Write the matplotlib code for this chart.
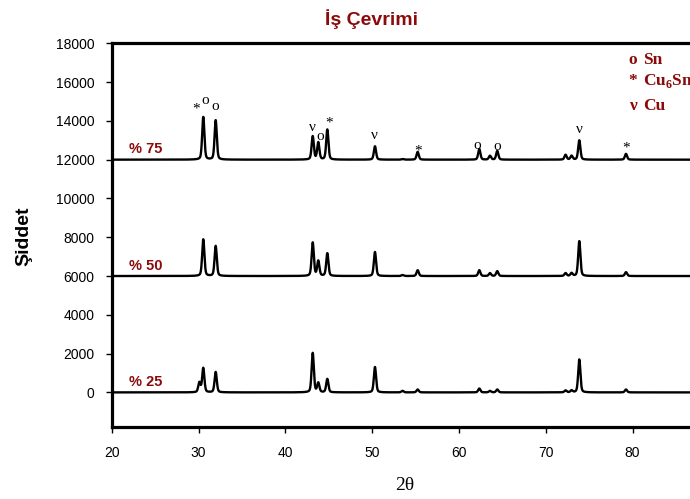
import numpy as np
import matplotlib
matplotlib.use("Agg")
import matplotlib.pyplot as plt

# ---------------- data ----------------
# peak positions (2theta) and heights above baseline for each sample
peak_pos = [30.1, 30.55, 31.98, 43.16, 43.8, 44.84, 50.33, 53.5, 55.25,
            62.35, 63.58, 64.42, 72.29, 72.98, 73.87, 79.25]
heights_25 = [500, 1250, 1050, 2030, 480, 690, 1310, 80, 150,
              200, 80, 150, 100, 100, 1700, 150]
heights_50 = [0, 1890, 1550, 1720, 770, 1170, 1240, 50, 300,
              300, 150, 250, 150, 150, 1800, 200]
heights_75 = [0, 2200, 2030, 1200, 880, 1550, 690, 30, 400,
              550, 200, 450, 250, 200, 1000, 300]
baselines = [0, 6000, 12000]
series_labels = ["% 25", "% 50", "% 75"]

# phase markers on the 75 % pattern: (symbol, 2theta, intensity)
marker_syms = ["*", "o", "o", "ν", "o", "*", "ν", "*", "o", "o", "ν", "*"]
marker_x = [29.68, 30.78, 31.98, 43.08, 44.0, 45.0, 50.22, 55.25, 62.12, 64.42, 73.87, 79.25]
marker_y = [14610, 15039, 14749, 13664, 13178, 13871, 13266, 12424, 12750, 12682, 13576, 12579]

legend_syms = ["o", "*", "ν"]
legend_names = ["Sn", "Cu$_\\mathregular{6}$Sn$_\\mathregular{5}$", "Cu"]

xticks = [20, 30, 40, 50, 60, 70, 80]
yticks = [0, 2000, 4000, 6000, 8000, 10000, 12000, 14000, 16000, 18000]

DARK_RED = "#8B0A0A"

# ---------------- profile ----------------
two_theta = np.arange(20.0, 90.0, 0.01)
fwhm = 0.30


def profile(heights, base):
    y = np.full_like(two_theta, float(base))
    g = fwhm / 2.0
    for p, h in zip(peak_pos, heights):
        lor = 1.0 / (1.0 + ((two_theta - p) / g) ** 2)
        gau = np.exp(-np.log(2) * ((two_theta - p) / g) ** 2)
        y += h * (0.35 * lor + 0.65 * gau)
    return y


# ---------------- figure ----------------
W, H = 690, 499
fig = plt.figure(figsize=(W / 100, H / 100), dpi=100)
left_px, right_px = 111.7, 111.7 + 70 * 8.68
top_px, bottom_px = 43.3, 427.3
ax = fig.add_axes([left_px / W, 1 - bottom_px / H,
                   (right_px - left_px) / W, (bottom_px - top_px) / H])

for heights, base in zip([heights_25, heights_50, heights_75], baselines):
    ax.plot(two_theta, profile(heights, base), color="black", lw=1.7,
            solid_joinstyle="round")

for lab, base in zip(series_labels, baselines):
    ax.text(22.0, base + 170, lab, color=DARK_RED, fontsize=10.5,
            fontweight="bold", family="Liberation Sans", ha="left", va="bottom")

for s, x, y in zip(marker_syms, marker_x, marker_y):
    ax.text(x, y, s, ha="center", va="center", fontsize=11,
            family="Liberation Serif", color="black")

ax.set_xlim(20, 90)
ax.set_ylim(-1800, 18000)
ax.set_xticks(xticks)
ax.set_yticks(yticks)
ax.tick_params(direction="out", length=4.5, width=1, labelsize=10)
ax.tick_params(axis="x", pad=9)
ax.tick_params(axis="y", pad=8)
for lbl in ax.get_xticklabels() + ax.get_yticklabels():
    lbl.set_family("Liberation Sans")
for sp in ax.spines.values():
    sp.set_linewidth(2.3)

# legend (manual text entries, partly cut at the right edge as in the reference)
leg_y_px = [60, 81, 106]
for s, name, ypx in zip(legend_syms, legend_names, leg_y_px):
    fig.text(632.5 / W, 1 - ypx / H, s, color=DARK_RED, fontsize=12.5, fontweight="bold",
             family="Liberation Serif", ha="center", va="center")
    fig.text(643 / W, 1 - ypx / H, name, color=DARK_RED, fontsize=12.5, fontweight="bold",
             family="Liberation Serif", ha="left", va="center")

fig.text(371.5 / W, 1 - 19 / H, "İş Çevrimi", color=DARK_RED, fontsize=14,
         fontweight="bold", family="Liberation Sans", ha="center", va="center")
fig.text(24 / W, 1 - 236 / H, "Şiddet", rotation=90, fontsize=14,
         fontweight="bold", family="Liberation Sans", ha="center", va="center")
fig.text(405 / W, 1 - 486 / H, "2θ", fontsize=14, family="Liberation Serif",
         ha="center", va="center")

fig.savefig("out.png", dpi=100)
